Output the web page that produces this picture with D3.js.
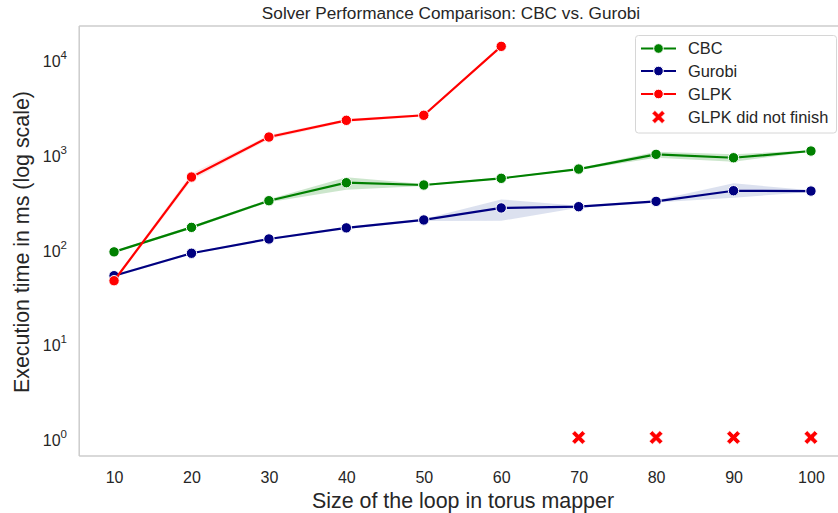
<!DOCTYPE html>
<html><head><meta charset="utf-8">
<script src="https://cdn.jsdelivr.net/npm/d3@7"></script>
<style>
html,body{margin:0;padding:0;background:#fff;}
svg{display:block;font-family:"Liberation Sans",Arial,sans-serif;}
</style></head>
<body>
<svg id="chart" width="838" height="513"></svg>
<script>
// ---- data ----
const sizes = [10, 20, 30, 40, 50, 60, 70, 80, 90, 100];
const cbcMean = [90, 163, 311, 481, 455, 535, 670, 957, 881, 1037];
const cbcLow  = [88, 158, 300, 405, 445, 525, 655, 880, 800, 1020];
const cbcHigh = [92, 168, 322, 550, 465, 545, 685, 1020, 960, 1055];
const gurobiMean = [50.5, 87, 123, 161, 195, 261, 269, 306, 396, 393];
const gurobiLow  = [49, 85, 120, 157, 190, 191, 262, 298, 335, 385];
const gurobiHigh = [52, 89, 126, 165, 200, 321, 276, 314, 474, 400];
const glpkSizes = [10, 20, 30, 40, 50, 60];
const glpkMean = [44.7, 552, 1456, 2183, 2466, 13120];
const glpkLow  = [43, 510, 1380, 2100, 2400, 12800];
const glpkHigh = [46, 600, 1530, 2260, 2540, 13400];
const dnfSizes = [70, 80, 90, 100];
const dnfValue = [1, 1, 1, 1];
const xTicks = [10, 20, 30, 40, 50, 60, 70, 80, 90, 100];
const yTicks = [0, 1, 2, 3, 4]; // exponents
const seriesNames = ["CBC", "Gurobi", "GLPK", "GLPK did not finish"];
const seriesColors = ["green", "navy", "red", "red"];

// ---- layout ----
const svg = d3.select("#chart");
const pL = 79.2, pR = 845.8, pT = 26, pB = 456;
const x = d3.scaleLinear().domain([5.5, 104.5]).range([pL, pR]);
const y = d3.scaleLog().domain([Math.pow(10, -0.195), Math.pow(10, 4.332)]).range([pB, pT]);

// spines
const spine = "#cccccc";
svg.append("line").attr("x1", pL).attr("x2", pL).attr("y1", pT).attr("y2", pB).attr("stroke", spine).attr("stroke-width", 1.5);
svg.append("line").attr("x1", pL).attr("x2", pR).attr("y1", pB).attr("y2", pB).attr("stroke", spine).attr("stroke-width", 1.5);
svg.append("line").attr("x1", pL).attr("x2", pR).attr("y1", pT).attr("y2", pT).attr("stroke", spine).attr("stroke-width", 1.5);

// x axis ticks
const xAxis = d3.axisBottom(x).tickValues(xTicks).tickSize(0).tickPadding(16).tickFormat(d3.format("d"));
const gx = svg.append("g").attr("transform", `translate(0,${pB})`).call(xAxis);
gx.select(".domain").remove();
gx.selectAll("text").attr("font-size", 16).attr("fill", "#262626").attr("font-family", "Liberation Sans, Arial, sans-serif");

// y axis ticks (mathtext-like 10^n)
const yAxis = d3.axisLeft(y).tickValues(yTicks.map(e => Math.pow(10, e))).tickSize(0).tickFormat("");
const gy = svg.append("g").attr("transform", `translate(${pL},0)`).call(yAxis);
gy.select(".domain").remove();
yTicks.forEach(e => {
  const t = svg.append("text").attr("x", 67).attr("y", y(Math.pow(10, e)) + 9)
    .attr("text-anchor", "end").attr("fill", "#262626").attr("font-size", 16);
  t.append("tspan").text("10");
  t.append("tspan").attr("dy", -8).attr("font-size", 11.5).text(String(e));
});

// bands
const area = (xs, lo, hi) => d3.area().x((d, i) => x(xs[i])).y0((d, i) => y(lo[i])).y1((d, i) => y(hi[i]))(xs);
svg.append("path").attr("d", area(sizes, cbcLow, cbcHigh)).attr("fill", "green").attr("fill-opacity", 0.2);
svg.append("path").attr("d", area(sizes, gurobiLow, gurobiHigh)).attr("fill", "#3c5aa8").attr("fill-opacity", 0.18);
svg.append("path").attr("d", area(glpkSizes, glpkLow, glpkHigh)).attr("fill", "red").attr("fill-opacity", 0.1);

// lines + markers
function series(xs, vals, color) {
  const line = d3.line().x((d, i) => x(xs[i])).y(d => y(d));
  svg.append("path").attr("d", line(vals)).attr("fill", "none").attr("stroke", color).attr("stroke-width", 2.2);
  svg.append("g").selectAll("circle").data(vals).join("circle")
    .attr("cx", (d, i) => x(xs[i])).attr("cy", d => y(d)).attr("r", 5.2)
    .attr("fill", color).attr("stroke", "#fff").attr("stroke-width", 1);
}
series(sizes, cbcMean, seriesColors[0]);
series(sizes, gurobiMean, seriesColors[1]);
series(glpkSizes, glpkMean, seriesColors[2]);

// X markers
const xMarkPath = (s) => {
  const a = s * 0.45;
  return `M${-s},${-s + a} L${-s + a},${-s} L0,${-a} L${s - a},${-s} L${s},${-s + a} L${a},0 L${s},${s - a} L${s - a},${s} L0,${a} L${-s + a},${s} L${-s},${s - a} L${-a},0 Z`;
};
svg.append("g").selectAll("path").data(dnfValue).join("path")
  .attr("transform", (d, i) => `translate(${x(dnfSizes[i])},${y(d)})`)
  .attr("d", xMarkPath(6.8)).attr("fill", "red").attr("stroke", "#fff").attr("stroke-width", 0.6);

// title & labels
svg.append("text").attr("x", 451).attr("y", 18.5).attr("text-anchor", "middle")
  .attr("font-size", 17.2).attr("fill", "#262626").text("Solver Performance Comparison: CBC vs. Gurobi");
svg.append("text").attr("x", 463).attr("y", 508).attr("text-anchor", "middle")
  .attr("font-size", 21.4).attr("fill", "#262626").text("Size of the loop in torus mapper");
svg.append("text").attr("transform", `translate(29,242) rotate(-90)`).attr("text-anchor", "middle")
  .attr("font-size", 21.4).attr("fill", "#262626").text("Execution time in ms (log scale)");

// legend
const lg = svg.append("g");
lg.append("rect").attr("x", 635.5).attr("y", 35.5).attr("width", 201).attr("height", 97.5).attr("rx", 3)
  .attr("fill", "#fff").attr("fill-opacity", 0.85).attr("stroke", "#d6d6d6").attr("stroke-width", 1);
const rowsY = [48.5, 71, 94, 117];
seriesNames.forEach((name, i) => {
  const ry = rowsY[i];
  if (i < 3) {
    lg.append("line").attr("x1", 641).attr("x2", 676).attr("y1", ry).attr("y2", ry)
      .attr("stroke", seriesColors[i]).attr("stroke-width", 2.2);
    lg.append("circle").attr("cx", 658.5).attr("cy", ry).attr("r", 4.8)
      .attr("fill", seriesColors[i]).attr("stroke", "#fff").attr("stroke-width", 1);
  } else {
    lg.append("path").attr("transform", `translate(658.5,${ry})`).attr("d", xMarkPath(6.5))
      .attr("fill", "red").attr("stroke", "#fff").attr("stroke-width", 0.6);
  }
  lg.append("text").attr("x", 688).attr("y", ry + 5.8).attr("font-size", 16.4).attr("fill", "#262626").text(name);
});
</script>
</body></html>
